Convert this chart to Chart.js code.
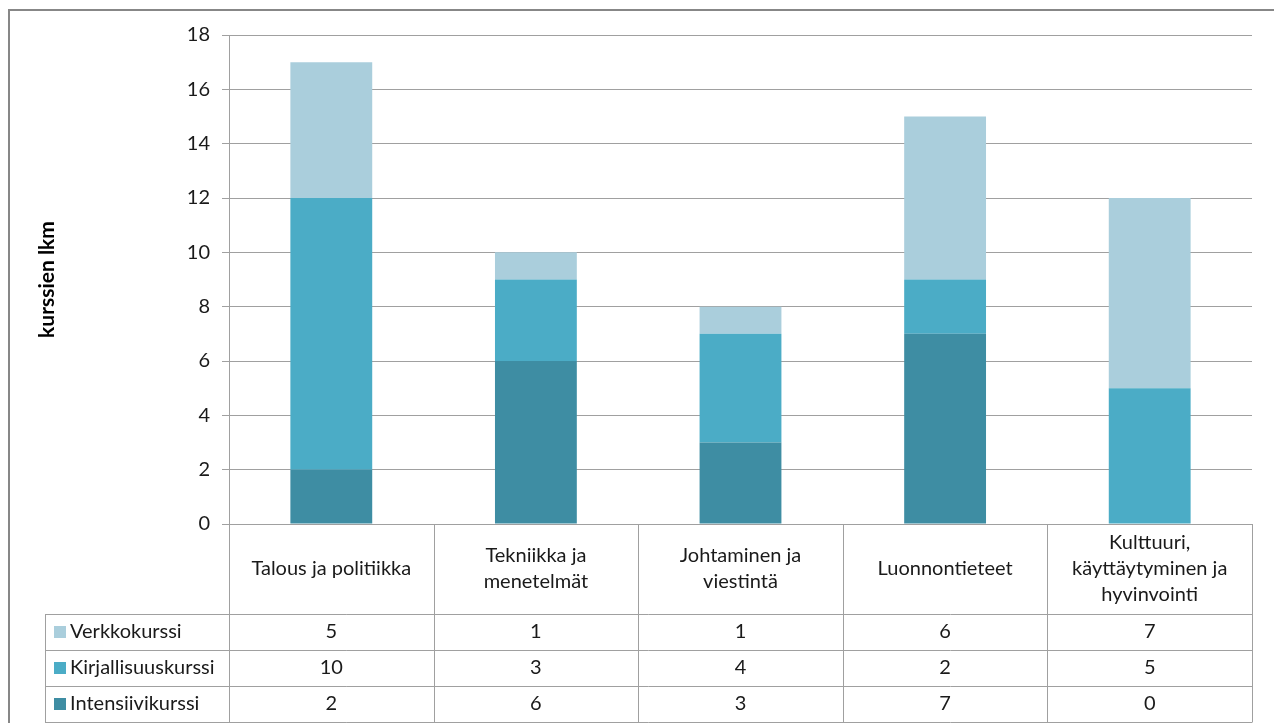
<!DOCTYPE html>
<html>
<head>
<meta charset="utf-8">
<script src="https://cdn.jsdelivr.net/npm/chart.js@4.4.1/dist/chart.umd.min.js"></script>
<style>
  html, body { margin: 0; padding: 0; background: #fff; }
  #wrap { position: relative; width: 1274px; height: 723px; }
</style>
</head>
<body>
<div id="wrap"><canvas id="kurssit" width="1274" height="723"></canvas></div>
<script>
var categories = [
  ["Talous ja politiikka"],
  ["Tekniikka ja", "menetelmät"],
  ["Johtaminen ja", "viestintä"],
  ["Luonnontieteet"],
  ["Kulttuuri,", "käyttäytyminen ja", "hyvinvointi"],
];

var intensiivikurssi = [2, 6, 3, 7, 0];
var kirjallisuuskurssi = [10, 3, 4, 2, 5];
var verkkokurssi = [5, 1, 1, 6, 7];

var yTicks = [0, 2, 4, 6, 8, 10, 12, 14, 16, 18];

var colors = ["rgb(62, 141, 163)", "rgb(75, 172, 198)", "rgb(170, 206, 220)"];
var gridColor = "rgb(160, 160, 160)";
var textColor = "#1a1a1a";
var fontFamily = "Lato, 'Open Sans', sans-serif";
var fontSize = 20;

// table rows are listed top to bottom, opposite to the stacking order
var tableRows = [
  { label: "Verkkokurssi", data: verkkokurssi, color: colors[2] },
  { label: "Kirjallisuuskurssi", data: kirjallisuuskurssi, color: colors[1] },
  { label: "Intensiivikurssi", data: intensiivikurssi, color: colors[0] },
];

var headerHeight = 90;
var rowHeight = 36;
var tableLeft = 45;

// outer frame of the chart object (cut off at right and bottom)
var framePlugin = {
  id: "frame",
  beforeDraw: function (chart) {
    var ctx = chart.ctx;
    ctx.save();
    ctx.strokeStyle = "rgb(135, 135, 135)";
    ctx.lineWidth = 2;
    ctx.beginPath();
    ctx.moveTo(9, chart.height);
    ctx.lineTo(9, 10);
    ctx.lineTo(chart.width, 10);
    ctx.stroke();
    ctx.restore();
  },
};

// data table under the plot, aligned with the category scale
var dataTablePlugin = {
  id: "dataTable",
  afterDraw: function (chart) {
    var ctx = chart.ctx;
    var x = chart.scales.x;
    var area = chart.chartArea;
    var n = categories.length;
    var step = (area.right - area.left) / n;
    var top = area.bottom;
    var headBottom = top + headerHeight;
    var tableBottom = headBottom + rowHeight * tableRows.length;

    ctx.save();
    ctx.strokeStyle = gridColor;
    ctx.lineWidth = 1;
    ctx.beginPath();
    // vertical lines through header and rows
    for (var i = 0; i <= n; i++) {
      var vx = Math.round(area.left + step * i) + 0.5;
      ctx.moveTo(vx, top);
      ctx.lineTo(vx, tableBottom);
    }
    ctx.moveTo(tableLeft + 0.5, headBottom);
    ctx.lineTo(tableLeft + 0.5, tableBottom);
    // horizontal row lines
    for (var r = 0; r <= tableRows.length; r++) {
      var hy = Math.round(headBottom + rowHeight * r) + 0.5;
      ctx.moveTo(tableLeft, hy);
      ctx.lineTo(area.right + 0.5, hy);
    }
    ctx.stroke();

    ctx.fillStyle = textColor;
    ctx.font = fontSize + "px " + fontFamily;
    ctx.textAlign = "center";
    ctx.textBaseline = "middle";

    // category headers
    categories.forEach(function (lines, i) {
      var cx = x.getPixelForValue(i);
      var lh = 26;
      var y0 = top + headerHeight / 2 - ((lines.length - 1) * lh) / 2;
      lines.forEach(function (line, k) {
        ctx.fillText(line, cx, y0 + k * lh);
      });
    });

    // rows with legend keys and values
    tableRows.forEach(function (row, r) {
      var cy = headBottom + rowHeight * r + rowHeight / 2;
      ctx.fillStyle = row.color;
      ctx.fillRect(tableLeft + 9, cy - 6, 12, 12);
      ctx.fillStyle = textColor;
      ctx.textAlign = "left";
      ctx.fillText(row.label, tableLeft + 25, cy);
      ctx.textAlign = "center";
      row.data.forEach(function (v, i) {
        ctx.fillText(String(v), x.getPixelForValue(i), cy);
      });
    });
    ctx.restore();
  },
};

var canvas = document.getElementById("kurssit");

var config = {
  type: "bar",
  data: {
    labels: categories,
    datasets: [
      { label: "Intensiivikurssi", data: intensiivikurssi, backgroundColor: colors[0] },
      { label: "Kirjallisuuskurssi", data: kirjallisuuskurssi, backgroundColor: colors[1] },
      { label: "Verkkokurssi", data: verkkokurssi, backgroundColor: colors[2] },
    ],
  },
  options: {
    responsive: false,
    maintainAspectRatio: false,
    animation: false,
    layout: { padding: { left: 0, right: 22, top: 35, bottom: 199 } },
    datasets: {
      bar: { barPercentage: 0.4, categoryPercentage: 1.0 },
    },
    plugins: {
      legend: { display: false },
      tooltip: { enabled: false },
    },
    scales: {
      x: {
        stacked: true,
        display: false,
      },
      y: {
        stacked: true,
        min: 0,
        max: 18,
        afterBuildTicks: function (scale) {
          scale.ticks = yTicks.map(function (v) { return { value: v }; });
        },
        afterFit: function (scale) {
          scale.width = 229;
        },
        grid: {
          color: gridColor,
          lineWidth: 1,
          drawTicks: true,
          tickLength: 7,
        },
        border: { color: gridColor, width: 1 },
        ticks: {
          color: textColor,
          padding: 12,
          font: { family: fontFamily, size: fontSize },
        },
        title: {
          display: true,
          text: "kurssien lkm",
          color: "#000",
          padding: { top: 35, bottom: 0 },
          font: { family: fontFamily, size: 21, weight: "bold" },
        },
      },
    },
  },
  plugins: [framePlugin, dataTablePlugin],
};

var chart = new Chart(canvas, config);
</script>
</body>
</html>
